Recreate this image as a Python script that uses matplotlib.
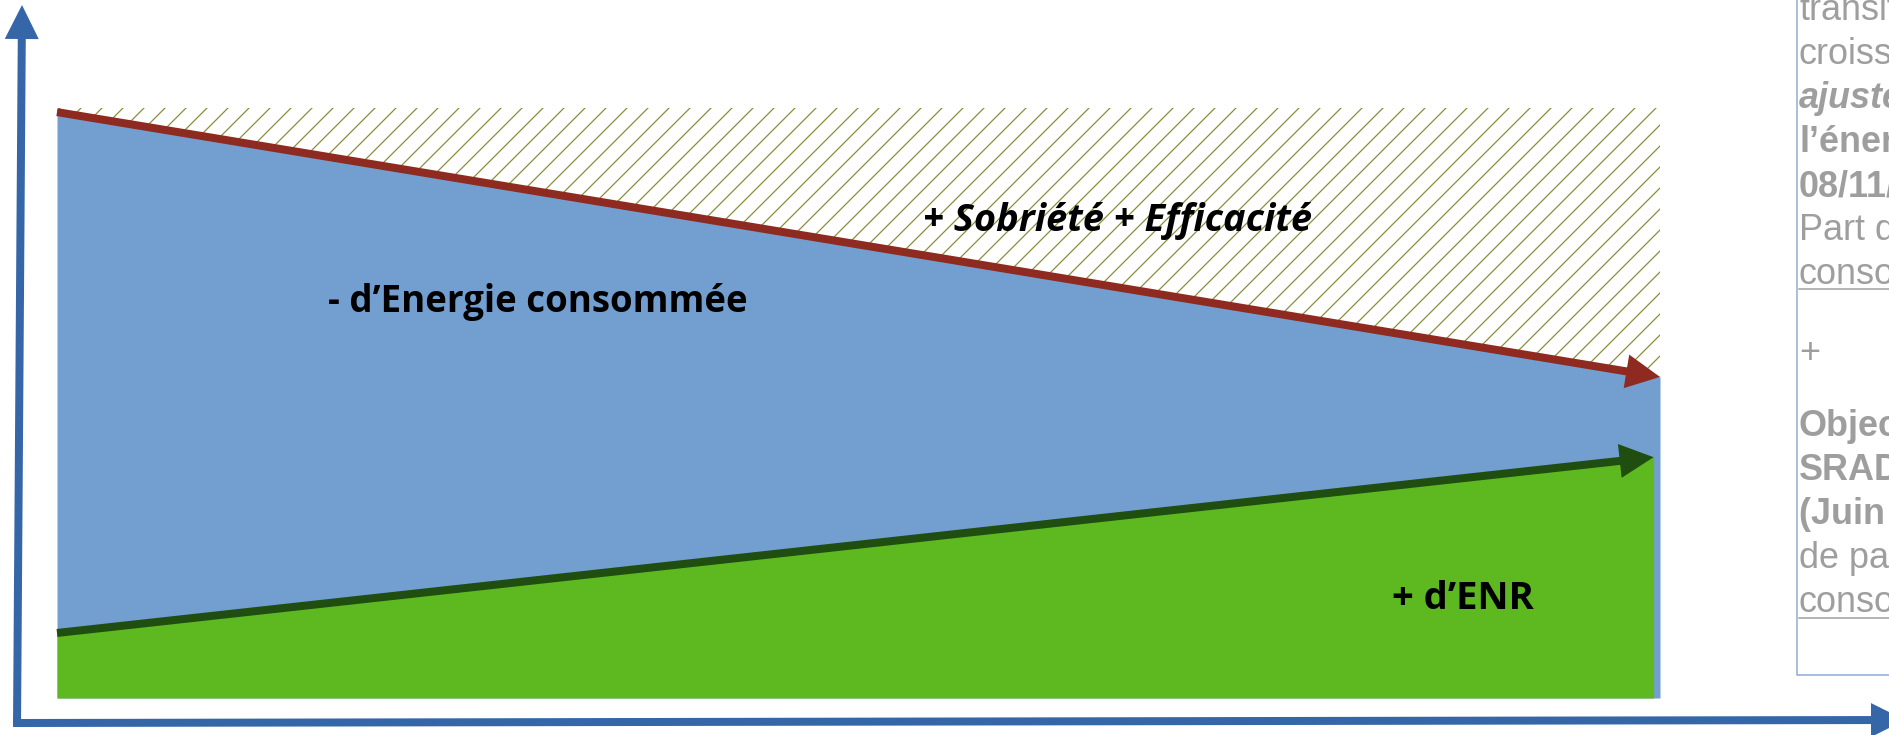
import matplotlib.pyplot as plt

# période (début -> fin), valeurs en indice (100 = conso de départ)
periode = [0, 1]
conso = [100, 54.8]          # énergie consommée
plafond = 100.7              # niveau de référence (zone sobriété/efficacité)
enr_x = [0, 0.996]
enr = [11.1, 41.1]           # production ENR

# libellés
lbl_conso = "- d\u2019Energie consommée"
lbl_sobr = "+ Sobriété + Efficacité"
lbl_enr = "+ d\u2019ENR"

# colonne de texte à droite (tronquée par le bord de l'image)
txt_haut = [("transition", "normal", "normal"),
            ("croissance", "normal", "normal"),
            ("ajustement", "bold", "italic"),
            ("l\u2019énergie", "bold", "normal"),
            ("08/11/2022", "bold", "normal"),
            ("Part de", "normal", "normal"),
            ("consommation", "normal", "normal")]
txt_bas = [("Objectif", "bold", "normal"),
           ("SRADDET", "bold", "normal"),
           ("(Juin 2020)", "bold", "normal"),
           ("de part", "normal", "normal"),
           ("consommation", "normal", "normal")]

W, H, DPI = 1889, 735, 126
fig = plt.figure(figsize=(W / DPI, H / DPI), dpi=DPI)
pt = 72 / DPI  # px -> points

bleu = "#729FCF"
vert = "#5DB91F"
rouge = "#8E2A20"
vert_f = "#1F4E10"
axe = "#3566A8"
olive = "#8B8B3A"
gris = "#9E9E9E"


def fleche(a, p0, p1, c, lw, tete, **kw):
    # trait + pointe séparés pour garder une pointe nette
    a.annotate("", xy=p1, xytext=p0, annotation_clip=False,
               arrowprops=dict(arrowstyle="-", color=c, lw=lw * pt,
                               shrinkA=0, shrinkB=(tete - 3) * pt,
                               capstyle="butt", clip_on=False), **kw)
    a.annotate("", xy=p1, xytext=p0, annotation_clip=False,
               arrowprops=dict(arrowstyle="-|>", fc=c, ec="none", lw=0,
                               mutation_scale=tete / 0.4 * pt,
                               shrinkA=0, shrinkB=0, clip_on=False), **kw)


# zone graphique
ax = fig.add_axes([57 / W, (H - 698) / H, 1603 / W, 590 / H])
ax.set_xlim(0, 1)
ax.set_ylim(0, plafond)
ax.axis("off")

ax.fill_between(periode, 0, conso, color=bleu, lw=0)
ax.fill_between(enr_x, 0, enr, color=vert, lw=0)
plt.rcParams["hatch.linewidth"] = 0.7
ax.fill_between(periode, conso, plafond, facecolor="none", edgecolor=olive,
                hatch="//", lw=0)

fleche(ax, (periode[0], conso[0]), (periode[1], conso[1]), rouge, 8, 34)
fleche(ax, (enr_x[0], enr[0]), (enr_x[1], enr[1]), vert_f, 8, 34)

# calque en pixels pour axes fléchés, labels et colonne de droite
ov = fig.add_axes([0, 0, 1, 1])
ov.set_xlim(0, W)
ov.set_ylim(H, 0)
ov.axis("off")
ov.patch.set_alpha(0)

fleche(ov, (17, 727), (22, 5), axe, 8, 34)
fleche(ov, (13, 723), (1905, 720), axe, 8, 34)

lab = dict(family="Open Sans", weight="bold", color="black", va="baseline")
ov.text(328, 312, lbl_conso, fontsize=36.6 * pt, **lab)
ov.text(923, 231, lbl_sobr, fontsize=38 * pt, style="italic", **lab)
ov.text(1392, 609, lbl_enr, fontsize=38.3 * pt, **lab)

# colonne droite
ov.plot([1797, 1797, W], [0, 675, 675], color="#8FA9D6", lw=1.5 * pt)
for y in (289, 618):
    ov.plot([1799, W], [y, y], color=gris, lw=1.5 * pt)
fs = 36 * pt
for i, (t, w, s) in enumerate(txt_haut):
    ov.text(1799, 20 + 44 * i, t, fontsize=fs, family="Liberation Sans",
            weight=w, style=s, color=gris, va="baseline")
ov.text(1799, 363, "+", fontsize=fs, family="Liberation Sans",
        color=gris, va="baseline")
for i, (t, w, s) in enumerate(txt_bas):
    ov.text(1799, 436 + 44 * i, t, fontsize=fs, family="Liberation Sans",
            weight=w, style=s, color=gris, va="baseline")

fig.savefig("out.png", dpi=DPI)
